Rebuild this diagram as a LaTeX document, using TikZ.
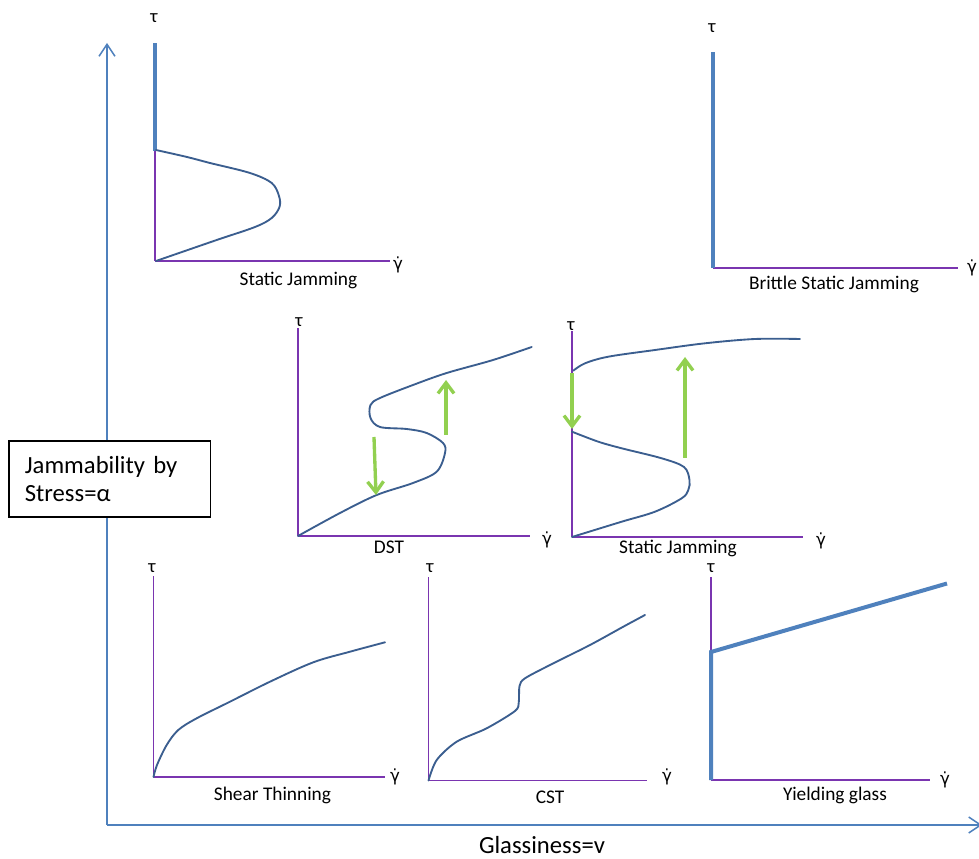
\documentclass[tikz,border=0pt]{standalone}
\usepackage{fontspec}
\setmainfont{Carlito}
\newfontfamily\dejavu{DejaVu Sans}
\usetikzlibrary{arrows.meta}
\definecolor{axisblue}{HTML}{4F81BD}
\definecolor{curveblue}{HTML}{3B5E8F}
\definecolor{axpurple}{HTML}{7A35B0}
\definecolor{jumpgreen}{HTML}{92D050}
% gamma with an overdot (shear rate)
\newcommand{\gdot}{{\dejavu\fontsize{12.5}{15}\selectfont γ̇}}
\begin{document}
\begin{tikzpicture}[x=0.75pt,y=-0.75pt,
  mainaxis/.style={axisblue, line width=1.1pt, -{Straight Barb[length=9pt,width=12pt]}},
  plotaxis/.style={axpurple, line width=1.1pt},
  curve/.style={curveblue, line width=1.4pt, line join=round, line cap=round},
  heavy/.style={axisblue, line width=3pt},
  jump/.style={jumpgreen, line width=2.5pt, -{Straight Barb[length=8pt,width=12pt]}},
  lbl/.style={font=\fontsize{14.5}{16}\selectfont, anchor=base, inner sep=0pt},
  sym/.style={font=\fontsize{14}{16}\selectfont, inner sep=0pt},
  ]
\useasboundingbox (0,0) rectangle (979,859);

% ---------- main axes ----------
\coordinate (corner) at (107,825);
\coordinate (ytop) at (107,43);
\coordinate (xend) at (982,825);
\draw[mainaxis] (corner) -- (ytop);
\draw[mainaxis] (corner) -- (xend);
\node[draw=black, fill=white, line width=1pt, minimum height=57pt,
      inner xsep=12pt, text width=127pt, align=left,
      font=\fontsize{18.5}{20.6}\selectfont] (alpha) at (109.5,479)
      {Jammability by\\Stress=α};
\node[font=\fontsize{18.5}{20.6}\selectfont, inner sep=0pt] (nu) at (542,845) {Glassiness=v};

% ---------- panel 1: static jamming ----------
\coordinate (o1) at (155,261);
\coordinate (t1) at (155,43);
\coordinate (x1) at (390,261);
\coordinate (s1) at (155,151);
\draw[plotaxis] (o1) -- (t1);
\draw[plotaxis] (o1) -- (x1);
\draw[heavy] (s1) -- (t1);
\draw[curve] plot[smooth, tension=0.55] coordinates {(156,150) (187,157) (210,163) (250,173)
  (271.7,183) (279,196) (279.5,207) (271.7,218) (255,227) (216.7,240) (156,261)};
\node[sym] (tau1) at (154,18) {τ};
\node[sym] (g1) at (398,265) {\gdot};
\node[lbl] (lab1) at (298.5,286) {Static Jamming};

% ---------- panel 2: brittle static jamming ----------
\coordinate (o2) at (713,268);
\coordinate (t2) at (713,52);
\coordinate (x2) at (958,268);
\draw[plotaxis] (o2) -- (x2);
\draw[heavy] (o2) -- (t2);
\node[sym] (tau2) at (712,28) {τ};
\node[sym] (g2) at (972,268) {\gdot};
\node[lbl] (lab2) at (834,290) {Brittle Static Jamming};

% ---------- panel 3: DST ----------
\coordinate (o3) at (298,536);
\coordinate (t3) at (298,328);
\coordinate (x3) at (530,536);
\draw[plotaxis] (o3) -- (t3);
\draw[plotaxis] (o3) -- (x3);
\draw[curve] plot[smooth, tension=0.55] coordinates {(298,536) (340,513) (376.7,495) (413,483)
  (436.7,471.7) (445,453) (443,443) (426.7,433) (406.7,429) (380,427) (370.5,418) (370.5,405)
  (380,398) (413,385) (446.7,373) (493,360) (531.7,347)};
\coordinate (d3a) at (374,437);
\coordinate (d3b) at (376,495);
\coordinate (u3a) at (446,435);
\coordinate (u3b) at (446,380);
\draw[jump] (d3a) -- (d3b);
\draw[jump] (u3a) -- (u3b);
\node[sym] (tau3) at (299,322) {τ};
\node[sym] (g3) at (547,540) {\gdot};
\node[lbl] (lab3) at (389,553) {DST};

% ---------- panel 4: static jamming with jumps ----------
\coordinate (o4) at (572,537);
\coordinate (t4) at (572,331);
\coordinate (x4) at (803,537);
\draw[plotaxis] (o4) -- (t4);
\draw[plotaxis] (o4) -- (x4);
\draw[curve] plot[smooth, tension=0.55] coordinates {(572,431.7) (598.3,441.7) (621.7,448.3)
  (661.7,458.3) (684,467) (689.5,480) (688.3,490) (681.7,498.3) (655,511.7) (621.7,521.7) (572,537)};
\draw[curve] plot[smooth, tension=0.55] coordinates {(573.3,370.7) (585,363.3) (608.3,356.7)
  (655,350) (705,343.3) (755,339) (800,339)};
\coordinate (d4a) at (572,373);
\coordinate (d4b) at (572,429);
\coordinate (u4a) at (685,458);
\coordinate (u4b) at (685,357);
\draw[jump] (d4a) -- (d4b);
\draw[jump] (u4a) -- (u4b);
\node[sym] (tau4) at (571,326) {τ};
\node[sym] (g4) at (821,541) {\gdot};
\node[lbl] (lab4) at (678,553.5) {Static Jamming};

% ---------- panel 5: shear thinning ----------
\coordinate (o5) at (153.5,777);
\coordinate (t5) at (153.5,576);
\coordinate (x5) at (385,777);
\draw[plotaxis] (o5) -- (t5);
\draw[plotaxis] (o5) -- (x5);
\draw[curve] plot[smooth, tension=0.55] coordinates {(153.5,777) (157,765) (166.7,745)
  (178.3,730) (196.7,718.3) (230,701.7) (270,681.7) (313.3,662.3) (350,651.7) (385,642.3)};
\node[sym] (tau5) at (152,568) {τ};
\node[sym] (g5) at (395,777) {\gdot};
\node[lbl] (lab5) at (272.5,800) {Shear Thinning};

% ---------- panel 6: CST ----------
\coordinate (o6) at (428.5,780.5);
\coordinate (t6) at (428.5,577);
\coordinate (x6) at (647,780.5);
\draw[plotaxis] (o6) -- (t6);
\draw[plotaxis] (o6) -- (x6);
\draw[curve] plot[smooth, tension=0.5] coordinates {(428.5,780.5) (436.7,760) (456.7,741.7)
  (486.7,728.3) (515,711) (518.8,702) (519.5,686) (525,678.3) (550,665) (590,645) (623.3,626.7) (645,615)};
\node[sym] (tau6) at (430,568) {τ};
\node[sym] (g6) at (667,777) {\gdot};
\node[lbl] (lab6) at (550,803) {CST};

% ---------- panel 7: yielding glass ----------
\coordinate (o7) at (711,780);
\coordinate (t7) at (711,577);
\coordinate (x7) at (930,780);
\coordinate (y7) at (711,652);
\coordinate (e7) at (947,583.5);
\draw[plotaxis] (o7) -- (t7);
\draw[plotaxis] (o7) -- (x7);
\draw[heavy] (o7) -- (y7) -- (e7);
\node[sym] (tau7) at (711,568) {τ};
\node[sym] (g7) at (945,780) {\gdot};
\node[lbl] (lab7) at (835,800) {Yielding glass};
\end{tikzpicture}
\end{document}
